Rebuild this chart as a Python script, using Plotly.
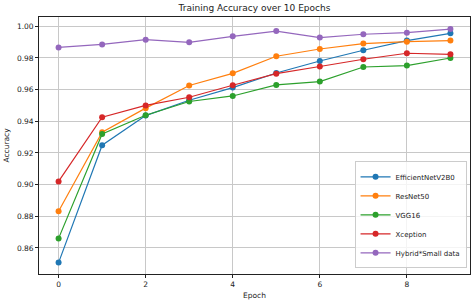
import plotly.graph_objects as go

epochs = list(range(10))
efficientnet = [0.8507, 0.9249, 0.9436, 0.9533, 0.9613, 0.9705, 0.9781, 0.9849, 0.9910, 0.9956]
resnet50 = [0.8831, 0.9331, 0.9483, 0.9626, 0.9703, 0.9811, 0.9857, 0.9891, 0.9903, 0.9910]
vgg16 = [0.8660, 0.9320, 0.9438, 0.9525, 0.9560, 0.9630, 0.9651, 0.9743, 0.9752, 0.9800]
xception = [0.9020, 0.9426, 0.9500, 0.9552, 0.9628, 0.9701, 0.9746, 0.9792, 0.9830, 0.9823]
hybrid = [0.9867, 0.9886, 0.9916, 0.9899, 0.9937, 0.9970, 0.9929, 0.9950, 0.9960, 0.9983]

names = ["EfficientNetV2B0", "ResNet50", "VGG16", "Xception", "Hybrid*Small data"]
series = [efficientnet, resnet50, vgg16, xception, hybrid]
colors = ["#1f77b4", "#ff7f0e", "#2ca02c", "#d62728", "#9467bd"]

fig = go.Figure()
for name, vals, c in zip(names, series, colors):
    fig.add_trace(go.Scatter(x=epochs, y=vals, mode="lines+markers", name=name,
                             line=dict(color=c, width=1.2),
                             marker=dict(color=c, size=6)))

font = "DejaVu Sans"
axis_common = dict(showline=True, linecolor="#222", linewidth=0.8, mirror=True,
                   showgrid=True, gridcolor="#c8c8c8", gridwidth=0.8,
                   ticks="outside", ticklen=3, tickwidth=0.8, tickcolor="#222",
                   zeroline=False, tickfont=dict(family=font, size=7.5, color="#222"))

fig.update_layout(
    width=476, height=304,
    margin=dict(l=39, r=6, t=17, b=30),
    paper_bgcolor="white", plot_bgcolor="white",
    title=dict(text="Training Accuracy over 10 Epochs", x=0.5, xref="paper", xanchor="center",
               y=1 - 8 / 304, yanchor="middle",
               font=dict(family=font, size=9, color="#222")),
    xaxis=dict(range=[-0.45, 9.45], tickvals=[0, 2, 4, 6, 8],
               title=dict(text="Epoch", font=dict(family=font, size=7.5, color="#222"), standoff=4),
               **axis_common),
    yaxis=dict(range=[0.8435, 1.0059], tickvals=[0.86, 0.88, 0.90, 0.92, 0.94, 0.96, 0.98, 1.00],
               tickformat=".2f",
               title=dict(text="Accuracy", font=dict(family=font, size=7.5, color="#222"), standoff=6),
               **axis_common),
    legend=dict(x=0.992, xanchor="right", y=0.022, yanchor="bottom",
                bgcolor="rgba(255,255,255,0.8)", bordercolor="#cccccc", borderwidth=1,
                font=dict(family=font, size=7, color="#222"),
                tracegroupgap=0, itemwidth=30),
    showlegend=True,
)

fig.write_html("out.html", config={"displayModeBar": False},
               post_script="document.body.style.margin='0';document.body.style.padding='0';")
